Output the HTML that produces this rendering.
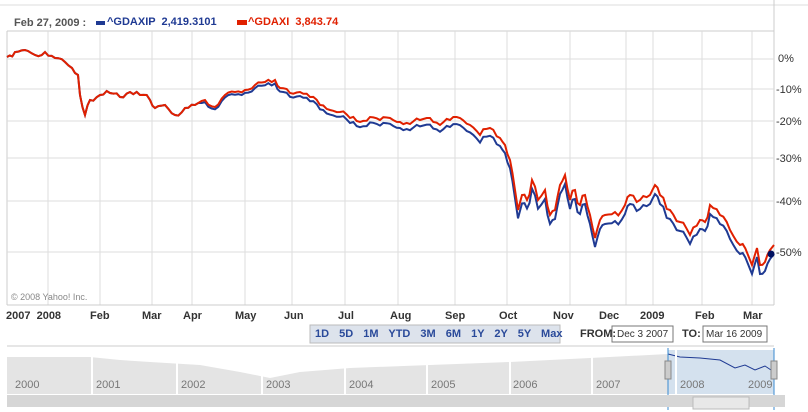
<!DOCTYPE html>
<html><head><meta charset="utf-8"><style>
body{margin:0;background:#fff;font-family:"Liberation Sans",Tahoma,sans-serif;}
#w{position:relative;width:808px;height:412px;overflow:hidden;background:#fff}
.t{position:absolute;font-size:11px;color:#333;white-space:nowrap}
.b{font-weight:bold}
</style></head><body><div id="w">
<svg width="808" height="412" style="position:absolute;left:0;top:0">
<rect x="0" y="0" width="808" height="412" fill="#fff"/>
<line x1="0" y1="5" x2="808" y2="5" stroke="#ddd"/>
<line x1="7" y1="31" x2="774" y2="31" stroke="#ccc"/>
<line x1="7" y1="31" x2="7" y2="305" stroke="#ccc"/>
<line x1="774" y1="0" x2="774" y2="305" stroke="#ccc"/>
<g stroke="#ddd">
<line x1="48" y1="31" x2="48" y2="305"/><line x1="100" y1="31" x2="100" y2="305"/><line x1="152" y1="31" x2="152" y2="305"/><line x1="192" y1="31" x2="192" y2="305"/><line x1="245" y1="31" x2="245" y2="305"/><line x1="292" y1="31" x2="292" y2="305"/><line x1="345" y1="31" x2="345" y2="305"/><line x1="398" y1="31" x2="398" y2="305"/><line x1="455" y1="31" x2="455" y2="305"/><line x1="507" y1="31" x2="507" y2="305"/><line x1="570" y1="31" x2="570" y2="305"/><line x1="626" y1="31" x2="626" y2="305"/><line x1="653" y1="31" x2="653" y2="305"/><line x1="702" y1="31" x2="702" y2="305"/><line x1="752" y1="31" x2="752" y2="305"/>
<line x1="7" y1="59" x2="774" y2="59"/><line x1="7" y1="89" x2="774" y2="89"/><line x1="7" y1="121" x2="774" y2="121"/><line x1="7" y1="158" x2="774" y2="158"/><line x1="7" y1="201" x2="774" y2="201"/><line x1="7" y1="252" x2="774" y2="252"/>
</g>
<line x1="7" y1="305" x2="774" y2="305" stroke="#ccc"/>
<polyline id="blue" fill="none" stroke="#1f3a93" stroke-width="2"/>
<polyline id="red" fill="none" stroke="#e02000" stroke-width="2"/>
<circle cx="771" cy="254" r="3.5" fill="#001060"/>
<line x1="7" y1="346" x2="774" y2="346" stroke="#ccc"/>
<path id="nav" fill="#e4e4e4"/>
<rect x="668" y="350" width="106" height="44" fill="#c9d9ea" opacity="0.8"/>
<polyline id="navl" fill="none" stroke="#1f3a93" stroke-width="1"/>
<g stroke="#fff" stroke-width="2"><line x1="92" y1="350" x2="92" y2="394"/><line x1="177" y1="350" x2="177" y2="394"/><line x1="262" y1="350" x2="262" y2="394"/><line x1="345" y1="350" x2="345" y2="394"/><line x1="427" y1="350" x2="427" y2="394"/><line x1="510" y1="350" x2="510" y2="394"/><line x1="592" y1="350" x2="592" y2="394"/><line x1="676" y1="350" x2="676" y2="394"/></g>
<line x1="668" y1="348" x2="668" y2="410" stroke="#3a8ad0"/><line x1="774" y1="348" x2="774" y2="410" stroke="#3a8ad0"/>
<rect x="665" y="361" width="6" height="18" fill="#ccc" stroke="#888"/><rect x="771" y="361" width="6" height="18" fill="#ccc" stroke="#888"/>
<rect x="7" y="395" width="778" height="12" fill="#d6d6d6"/>
<rect x="693" y="397" width="56" height="12" fill="#e8e8e8" stroke="#bbb"/>
<rect x="310" y="325" width="250" height="18" fill="#dde3ec" stroke="#bbb"/>
<rect x="612" y="326" width="61" height="16" fill="#fff" stroke="#777"/>
<rect x="703" y="326" width="64" height="16" fill="#fff" stroke="#777"/>
</svg>
<div class="t b" style="left:14px;top:17px;color:#555">Feb 27, 2009 :</div>
<div style="position:absolute;left:96px;top:21px;width:9px;height:4px;background:#1f3a93"></div>
<div class="t b" style="left:107px;top:16px;color:#1f3a93">^GDAXIP &nbsp;2,419.3101</div>
<div style="position:absolute;left:237px;top:20px;width:10px;height:5px;background:#e02000"></div>
<div class="t b" style="left:248px;top:16px;color:#e02000">^GDAXI &nbsp;3,843.74</div>
<div class="t" style="left:778px;top:53px">0%</div>
<div class="t" style="left:776px;top:84px">-10%</div>
<div class="t" style="left:776px;top:116px">-20%</div>
<div class="t" style="left:776px;top:153px">-30%</div>
<div class="t" style="left:776px;top:196px">-40%</div>
<div class="t" style="left:776px;top:247px">-50%</div>
<div class="t" style="left:11px;top:292px;font-size:9px;color:#888">© 2008 Yahoo! Inc.</div>
<div class="t b" style="left:6px;top:310px">2007&nbsp; 2008</div>
<div class="t b" style="left:90px;top:310px">Feb</div><div class="t b" style="left:142px;top:310px">Mar</div><div class="t b" style="left:183px;top:310px">Apr</div><div class="t b" style="left:235px;top:310px">May</div><div class="t b" style="left:284px;top:310px">Jun</div><div class="t b" style="left:338px;top:310px">Jul</div><div class="t b" style="left:390px;top:310px">Aug</div><div class="t b" style="left:445px;top:310px">Sep</div><div class="t b" style="left:499px;top:310px">Oct</div><div class="t b" style="left:553px;top:310px">Nov</div><div class="t b" style="left:599px;top:310px">Dec</div><div class="t b" style="left:640px;top:310px">2009</div><div class="t b" style="left:695px;top:310px">Feb</div><div class="t b" style="left:743px;top:310px">Mar</div>
<div class="t b" style="left:315px;top:328px;color:#2a4a9a;word-spacing:7px">1D 5D 1M YTD 3M 6M 1Y 2Y 5Y Max</div>
<div class="t b" style="left:580px;top:328px">FROM:</div>
<div class="t" style="left:617px;top:329px;font-size:10px">Dec 3 2007</div>
<div class="t b" style="left:682px;top:328px">TO:</div>
<div class="t" style="left:706px;top:329px;font-size:10px">Mar 16 2009</div>
<div class="t" style="left:15px;top:379px;color:#777">2000</div><div class="t" style="left:96px;top:379px;color:#777">2001</div><div class="t" style="left:181px;top:379px;color:#777">2002</div><div class="t" style="left:266px;top:379px;color:#777">2003</div><div class="t" style="left:349px;top:379px;color:#777">2004</div><div class="t" style="left:431px;top:379px;color:#777">2005</div><div class="t" style="left:513px;top:379px;color:#777">2006</div><div class="t" style="left:596px;top:379px;color:#777">2007</div><div class="t" style="left:680px;top:379px;color:#777">2008</div><div class="t" style="left:748px;top:379px;color:#777">2009</div>
</div>
<script>
var r=[[7,57],[15,52],[25,50],[35,55],[45,52],[55,58],[65,62],[72,68],[78,75],[80,95],[85,115],[90,100],[100,95],[110,93],[120,97],[130,92],[140,95],[150,100],[155,108],[165,105],[175,115],[185,108],[195,105],[205,100],[215,107],[225,95],[235,92],[245,90],[255,85],[265,82],[275,80],[280,88],[290,93],[300,92],[310,97],[320,105],[330,110],[340,112],[350,118],[360,122],[370,117],[380,120],[390,118],[400,122],[410,124],[420,120],[430,118],[440,125],[450,120],[460,118],[470,125],[480,135],[490,128],[500,138],[505,145],[510,160],[515,190],[518,210],[522,195],[527,200],[532,180],[538,200],[545,190],[550,215],[555,210],[560,185],[565,175],[570,200],[575,190],[580,205],[585,195],[590,215],[595,238],[600,220],[605,215],[615,212],[625,205],[630,195],[640,200],[650,195],[655,185],[660,195],[670,210],[680,222],[690,235],[700,220],[705,222],[710,205],[720,215],[730,230],[740,245],[748,255],[752,265],[757,248],[760,265],[765,262],[770,250],[774,245]];
function n(x){return 2.2*Math.sin(x*1.7)+1.5*Math.sin(x*0.63+1)+1.2*Math.sin(x*3.1+2);}
var pts=[];
for(var i=0;i<r.length-1;i++){var a=r[i],b=r[i+1];var s=Math.max(1,Math.round((b[0]-a[0])/3));
for(var k=0;k<s;k++){var x=a[0]+(b[0]-a[0])*k/s,y=a[1]+(b[1]-a[1])*k/s;if(k>0)y+=n(x)*(x>500?1.4:0.8);pts.push([x,y]);}}
pts.push(r[r.length-1]);
var rs=pts.map(p=>p[0].toFixed(1)+','+p[1].toFixed(1)).join(' ');
var bs=pts.map(p=>{var o=p[0]<200?0:Math.min(9,(p[0]-200)/50+2);return p[0].toFixed(1)+','+(p[1]+o).toFixed(1)}).join(' ');
document.getElementById('red').setAttribute('points',rs);
document.getElementById('blue').setAttribute('points',bs);
var nav=[[7,357],[90,357],[120,360],[150,362],[200,365],[240,372],[270,378],[300,372],[350,368],[430,365],[510,362],[590,358],[668,354]];
var d='M7,394 '+nav.map(p=>'L'+p.join(',')).join(' ')+' L668,394 Z';
document.getElementById('nav').setAttribute('d',d);
document.getElementById('navl').setAttribute('points','668,354 680,357 700,358 720,360 735,368 745,365 755,370 765,366 774,372');
</script>
</body></html>
